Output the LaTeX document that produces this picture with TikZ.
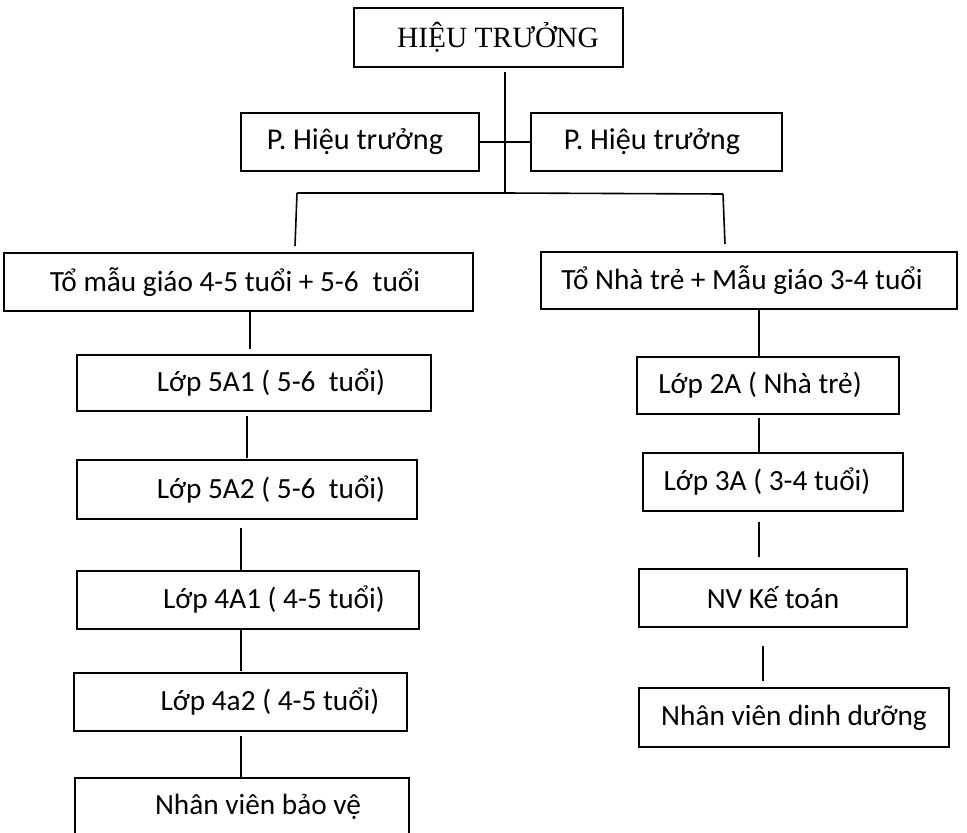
\documentclass[tikz,border=0pt]{standalone}
\usepackage{fontspec}
\setmainfont{Carlito}
\newfontfamily\serifht{Liberation Serif}
\begin{document}
\begin{tikzpicture}[x=1pt,y=-1pt,
  box/.style={draw=black,line width=1.5pt,inner sep=0pt,rectangle},
  conn/.style={draw=black,line width=1.6pt},
  lbl/.style={font=\fontsize{29.3}{32}\selectfont}]
\useasboundingbox (0,0) rectangle (967,833);
\begin{scope}
\clip (0,0) rectangle (967,833);
% boxes
\node[box,minimum width=269pt,minimum height=59pt,font=\serifht\fontsize{29.4}{32}\selectfont] (ht) at (488.5,37.5) {\hspace*{19pt}HIỆU TRƯỞNG};
\node[box,minimum width=238pt,minimum height=58pt,font=\fontsize{30.2}{32}\selectfont] (ph1) at (360,142) {P. Hiệu trưởng\hspace*{10pt}};
\node[box,minimum width=251pt,minimum height=58pt,font=\fontsize{30.2}{32}\selectfont] (ph2) at (656.5,142) {P. Hiệu trưởng\hspace*{9pt}};
\node[box,lbl,minimum width=469pt,minimum height=58pt] (to1) at (238.5,282) {Tổ mẫu giáo 4-5 tuổi + 5-6\hspace*{14pt}tuổi\hspace*{7pt}};
\node[box,lbl,minimum width=416pt,minimum height=57pt] (to2) at (749,280.5) {Tổ Nhà trẻ + Mẫu giáo 3-4 tuổi\hspace*{14pt}};
\node[box,lbl,minimum width=354pt,minimum height=56pt] (l5a1) at (254,383) {\hspace*{34pt}Lớp 5A1 ( 5-6 \ tuổi)};
\node[box,lbl,minimum width=340pt,minimum height=59pt] (l5a2) at (247,489.5) {\hspace*{48pt}Lớp 5A2 ( 5-6 \ tuổi)};
\node[box,lbl,minimum width=342pt,minimum height=58pt] (l4a1) at (248,600) {\hspace*{52pt}Lớp 4A1 ( 4-5 tuổi)};
\node[box,lbl,minimum width=333pt,minimum height=58pt] (l4a2) at (240.5,702) {\hspace*{59pt}Lớp 4a2 ( 4-5 tuổi)};
\node[box,lbl,minimum width=334pt,minimum height=58pt] (bv) at (242,807) {\hspace*{32pt}Nhân viên bảo vệ};
\node[box,lbl,minimum width=262pt,minimum height=57pt] (l2a) at (768,385.5) {Lớp 2A ( Nhà trẻ)\hspace*{16pt}};
\node[box,lbl,minimum width=260pt,minimum height=58pt] (l3a) at (773,482) {Lớp 3A ( 3-4 tuổi)\hspace*{12pt}};
\node[box,lbl,minimum width=268pt,minimum height=58pt] (nvkt) at (773,598) {NV Kế toán};
\node[box,lbl,minimum width=310pt,minimum height=59pt] (nvdd) at (794,717.5) {Nhân viên dinh dưỡng};
% junction coordinates
\coordinate (bar) at (505,193);
\coordinate (barL) at (297,193);
\coordinate (barR) at (723,194);
\coordinate (dropL) at (295,246);
\coordinate (dropR) at (725,244);
% connectors
\draw[conn] ([yshift=-4pt]ht.south -| bar) -- (bar);
\draw[conn] (ph1.east) -- (ph2.west);
\draw[conn] (barL) -- (bar) -- (barR);
\draw[conn] (barL) -- (dropL);
\draw[conn] (barR) -- (dropR);
\draw[conn] (to1.south -| 250,0) -- ([yshift=5pt]l5a1.north -| 250,0);
\draw[conn] (to2.south -| 759,0) -- (l2a.north -| 759,0);
\draw[conn] ([yshift=-4pt]l5a1.south -| 247,0) -- ([yshift=1pt]l5a2.north -| 247,0);
\draw[conn] ([yshift=-8pt]l5a2.south -| 241,0) -- (l4a1.north -| 241,0);
\draw[conn] (l4a1.south -| 241,0) -- ([yshift=1pt]l4a2.north -| 241,0);
\draw[conn] ([yshift=-4pt]l4a2.south -| 241,0) -- (bv.north -| 241,0);
\draw[conn] ([yshift=-3pt]l2a.south -| 759,0) -- (l3a.north -| 759,0);
\draw[conn] ([yshift=-10pt]l3a.south -| 759,0) -- ([yshift=11pt]nvkt.north -| 759,0);
\draw[conn] ([yshift=-18pt]nvkt.south -| 763,0) -- ([yshift=6pt]nvdd.north -| 763,0);
\end{scope}
\end{tikzpicture}
\end{document}
